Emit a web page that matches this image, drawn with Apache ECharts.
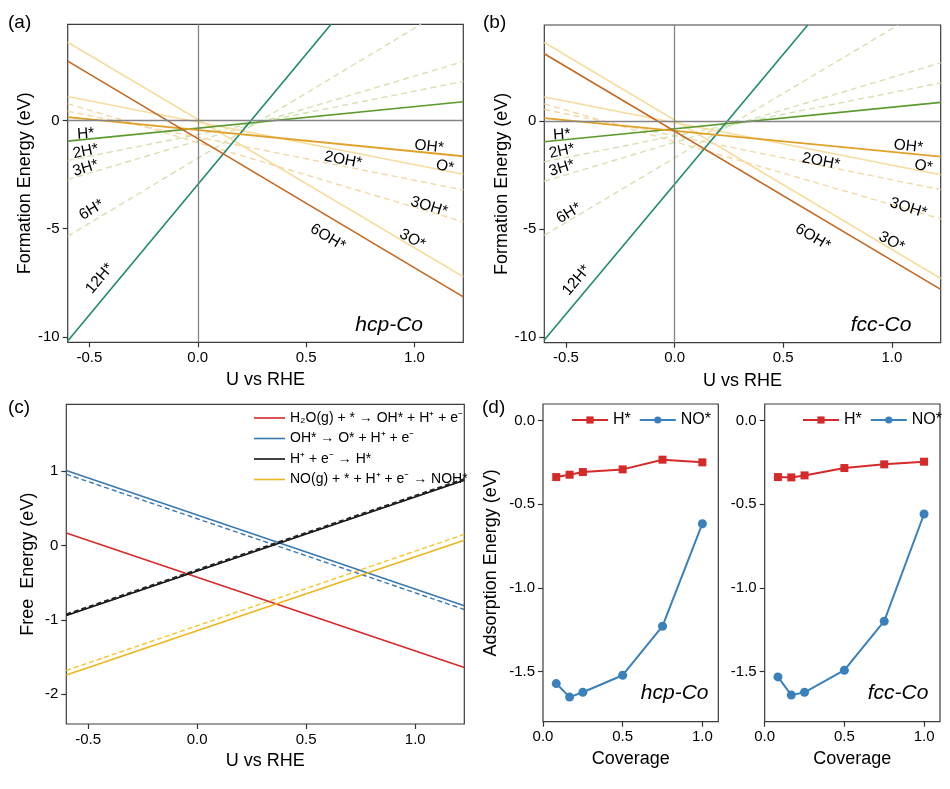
<!DOCTYPE html>
<html><head><meta charset="utf-8">
<script src="https://cdn.jsdelivr.net/npm/echarts@6/dist/echarts.min.js"></script>
<style>html,body{margin:0;padding:0;background:#fff}#c{width:950px;height:789px}</style>
</head><body><div id="c"></div>
<script>
// ================= DATA =================
// Panels (a)/(b): formation energy lines, endpoints [U, E]
const speciesNames = ['2H*','3H*','6H*','2OH*','3OH*','O*','3O*','H*','12H*','OH*','6OH*'];
const hcpStart = [[-0.6,-1.85],[-0.6,-2.73],[-0.6,-5.35],[-0.6,0.43],[-0.6,0.78],[-0.6,1.11],[-0.6,3.62],[-0.6,-0.95],[-0.6,-10.19],[-0.6,0.16],[-0.6,2.75]];
const hcpEnd   = [[1.225,1.81],[1.225,2.73],[1.03,4.45],[1.225,-3.21],[1.225,-4.68],[1.225,-2.48],[1.225,-7.22],[1.225,0.87],[0.615,4.45],[1.225,-1.65],[1.225,-8.15]];
const fccStart = [[-0.6,-1.88],[-0.6,-2.78],[-0.6,-5.28],[-0.6,0.54],[-0.6,0.80],[-0.6,1.12],[-0.6,3.64],[-0.6,-0.95],[-0.6,-10.12],[-0.6,0.14],[-0.6,3.12]];
const fccEnd   = [[1.225,1.77],[1.225,2.70],[1.03,4.45],[1.225,-3.17],[1.225,-4.52],[1.225,-2.48],[1.225,-7.28],[1.225,0.87],[0.613,4.45],[1.225,-1.64],[1.225,-7.78]];

// Line annotations in (a)/(b)
const labelTexts  = ['H*','2H*','3H*','6H*','12H*','2OH*','OH*','O*','3OH*','6OH*','3O*'];
const hcpLabelPos = [[-0.517,-0.62],[-0.517,-1.43],[-0.517,-2.2],[-0.49,-4.13],[-0.452,-7.3],[0.671,-1.82],[1.067,-1.2],[1.14,-2.13],[1.067,-3.98],[0.60,-5.4],[0.99,-5.49]];
const fccLabelPos = [[-0.519,-0.62],[-0.519,-1.39],[-0.519,-2.17],[-0.487,-4.26],[-0.452,-7.36],[0.674,-1.86],[1.076,-1.16],[1.145,-2.09],[1.076,-4.02],[0.636,-5.37],[0.999,-5.58]];
const panelNames = ['hcp-Co','fcc-Co'];
const hcpNamePos = [0.883,-9.46];
const fccNamePos = [0.95,-9.46];

// Panel (c): free energy lines, endpoints E at U=-0.6 and U=1.225
const cU = [-0.6, 1.225];
const cNames = ['H\u2082O(g) + * \u2192 OH* + H\u207A + e\u207B', 'OH* \u2192 O* + H\u207A + e\u207B', 'H\u207A + e\u207B \u2192 H*', 'NO(g) + * + H\u207A + e\u207B \u2192 NOH*'];
const cSolid  = [[0.17,-1.64],[1.01,-0.81],[-0.94,0.88],[-1.74,0.07]];
const cDashed = [null,[0.96,-0.86],[-0.93,0.89],[-1.68,0.15]];

// Panel (d): adsorption energy vs coverage
const coverage = [0.083, 0.167, 0.25, 0.5, 0.75, 1.0];
const hcpH  = [-0.337,-0.323,-0.307,-0.291,-0.233,-0.249];
const hcpNO = [-1.572,-1.653,-1.624,-1.522,-1.229,-0.616];
const fccH  = [-0.337,-0.339,-0.327,-0.283,-0.261,-0.245];
const fccNO = [-1.532,-1.641,-1.624,-1.492,-1.199,-0.558];
const dNamePos = [[0.826,-1.63],[0.837,-1.63]];

// ================= STYLE =================
const FONT = 'Liberation Sans, Arial, Helvetica, sans-serif';
const TXT = '#000';
const speciesStyle = {
  '2H*': ['#d2e2b0',1.4,true], '3H*': ['#d2e2b0',1.4,true], '6H*': ['#d2e2b0',1.4,true],
  '2OH*': ['#f3d8a6',1.4,true], '3OH*': ['#f3d8a6',1.4,true],
  'O*': ['#f7dc9e',1.5,false], '3O*': ['#f7dc9e',1.5,false],
  'H*': ['#5b9a2e',1.6,false], '12H*': ['#1e8a6c',1.6,false],
  'OH*': ['#e0a128',1.8,false], '6OH*': ['#c4661f',1.6,false]
};
const labelRot = [4,12,17,31,50,-11,-6,-11,-17,-31,-28];

const grids = [
  {left:67.7, top:24.3, width:395.6, height:318},
  {left:544.3, top:25, width:396.4, height:317.7},
  {left:66.3, top:404.3, width:398, height:319.7},
  {left:543, top:404, width:175.3, height:317.7},
  {left:764.7, top:404, width:175.3, height:317.7}
].map(g => Object.assign(g, {show:true, borderColor:'#3c3c3c', borderWidth:1.2, backgroundColor:'transparent'}));

function axisCommon(extra) {
  return Object.assign({
    type:'value',
    axisLine:{show:false, onZero:false},
    splitLine:{show:false},
    nameLocation:'middle',
    nameTextStyle:{fontSize:18, color:TXT, fontFamily:FONT},
  }, extra);
}
function ticks(vals, fmt, len) {
  return {
    axisTick:{show:true, customValues:vals, length:len||5, inside:false, lineStyle:{color:'#333', width:1.2}},
    axisLabel:{customValues:vals, formatter:fmt, fontSize:15, color:TXT, fontFamily:FONT, margin:8}
  };
}
const f1 = v => v.toFixed(1);
const f0 = v => String(Math.round(v));
const uTicks = [-0.5,0,0.5,1.0];

const xAxes = [
  axisCommon(Object.assign({gridIndex:0, position:'bottom', min:-0.6, max:1.225, name:'U vs RHE', nameGap:29}, ticks(uTicks,f1))),
  axisCommon(Object.assign({gridIndex:1, position:'bottom', min:-0.6, max:1.225, name:'U vs RHE', nameGap:29}, ticks(uTicks,f1))),
  axisCommon(Object.assign({gridIndex:2, position:'bottom', min:-0.6, max:1.225, name:'U vs RHE', nameGap:28}, ticks(uTicks,f1))),
  axisCommon(Object.assign({gridIndex:3, position:'bottom', min:0, max:1.1, name:'Coverage', nameGap:28}, ticks([0,0.5,1.0],f1))),
  axisCommon(Object.assign({gridIndex:4, position:'bottom', min:0, max:1.1, name:'Coverage', nameGap:28}, ticks([0,0.5,1.0],f1)))
];
const yAxes = [
  axisCommon(Object.assign({gridIndex:0, position:'left', min:-10.25, max:4.45, name:'Formation Energy (eV)', nameGap:30}, ticks([-10,-5,0],f0))),
  axisCommon(Object.assign({gridIndex:1, position:'left', min:-10.25, max:4.45, name:'Formation Energy (eV)', nameGap:30}, ticks([-10,-5,0],f0))),
  axisCommon(Object.assign({gridIndex:2, position:'left', min:-2.4, max:1.9, name:'Free  Energy (eV)', nameGap:29}, ticks([-2,-1,0,1],f0))),
  axisCommon(Object.assign({gridIndex:3, position:'left', min:-1.8, max:0.1, name:'Adsorption Energy (eV)', nameGap:43}, ticks([-1.5,-1.0,-0.5,0],f1))),
  axisCommon(Object.assign({gridIndex:4, position:'left', min:-1.8, max:0.1}, ticks([-1.5,-1.0,-0.5,0],f1)))
];

const series = [];
const zeroLines = {
  silent:true, symbol:'none', animation:false,
  label:{show:false},
  lineStyle:{color:'#858585', width:1.3, type:'solid'},
  data:[{xAxis:0},{yAxis:0}]
};

function addFormationPanel(gi, starts, ends, lpos, pname, ppos) {
  speciesNames.forEach((n, i) => {
    const st = speciesStyle[n];
    const s = {
      type:'line', xAxisIndex:gi, yAxisIndex:gi, name:n+'_'+gi,
      data:[starts[i], ends[i]], symbol:'none', clip:true, silent:true,
      lineStyle:{color:st[0], width:st[1], type: st[2] ? [6,4] : 'solid'},
      z: st[2] ? 2 : 3
    };
    if (i === 0) s.markLine = zeroLines;
    series.push(s);
  });
  const lab = labelTexts.map((t, i) => ({
    value: lpos[i],
    label:{show:true, formatter:t, rotate:labelRot[i], position:'inside', fontSize:15.5, color:TXT, fontFamily:FONT}
  }));
  lab.push({value: ppos, label:{show:true, formatter:pname, position:'inside', fontSize:21, fontStyle:'italic', color:TXT, fontFamily:FONT}});
  series.push({type:'scatter', xAxisIndex:gi, yAxisIndex:gi, symbolSize:0, silent:true, z:10,
    itemStyle:{opacity:1}, data:lab});
}
addFormationPanel(0, hcpStart, hcpEnd, hcpLabelPos, panelNames[0], hcpNamePos);
addFormationPanel(1, fccStart, fccEnd, fccLabelPos, panelNames[1], fccNamePos);

// Panel (c)
const cColors = ['#d8282a','#3a78b0','#111111','#ebb51c'];
const cDashColors = ['#d8282a','#3a78b0','#222222','#f3c52a'];
cDashed.forEach((d, i) => {
  if (!d) return;
  series.push({type:'line', xAxisIndex:2, yAxisIndex:2, name:'dashed'+i,
    data:[[cU[0], d[0]],[cU[1], d[1]]], symbol:'none', silent:true, clip:true,
    lineStyle:{color:cDashColors[i], width: i===2 ? 2.6 : 1.4, type:[5,3]}, z: i===2 ? 4 : 2});
});
cSolid.forEach((d, i) => {
  series.push({type:'line', xAxisIndex:2, yAxisIndex:2, name:cNames[i],
    data:[[cU[0], d[0]],[cU[1], d[1]]], symbol:'none', silent:true, clip:true,
    lineStyle:{color:cColors[i], width:1.6, type:'solid'}, itemStyle:{color:cColors[i]}, z:3});
});

// Panel (d)
function addAds(gi, hv, nv, pname, ppos) {
  series.push({type:'line', xAxisIndex:gi, yAxisIndex:gi, name:'H*',
    data: coverage.map((c,i)=>[c,hv[i]]), symbol:'rect', symbolSize:8, showAllSymbol:true,
    lineStyle:{color:'#d42a2a', width:2}, itemStyle:{color:'#d42a2a'}, silent:true});
  series.push({type:'line', xAxisIndex:gi, yAxisIndex:gi, name:'NO*',
    data: coverage.map((c,i)=>[c,nv[i]]), symbol:'circle', symbolSize:9, showAllSymbol:true,
    lineStyle:{color:'#3a80bb', width:2}, itemStyle:{color:'#3a80bb'}, silent:true});
  series.push({type:'scatter', xAxisIndex:gi, yAxisIndex:gi, symbolSize:0, silent:true,
    itemStyle:{opacity:1},
    data:[{value:ppos, label:{show:true, formatter:pname, position:'inside', fontSize:21, fontStyle:'italic', color:TXT, fontFamily:FONT}}]});
}
addAds(3, hcpH, hcpNO, panelNames[0], dNamePos[0]);
addAds(4, fccH, fccNO, panelNames[1], dNamePos[1]);

const legendText = {fontSize:14, color:TXT, fontFamily:FONT};
const option = {
  animation:false,
  backgroundColor:'#fff',
  textStyle:{fontFamily:FONT},
  grid: grids,
  xAxis: xAxes,
  yAxis: yAxes,
  legend: [
    {data:cNames, orient:'vertical', left:249, top:406, icon:'rect', itemWidth:31, itemHeight:1.6,
     itemGap:6.5, textStyle:legendText, selectedMode:false},
    {data:['H*','NO*'], left:566, top:407, itemWidth:36, itemHeight:9, itemGap:8,
     textStyle:{fontSize:16, color:TXT, fontFamily:FONT}, selectedMode:false},
    {data:['H*','NO*'], left:797, top:407, itemWidth:36, itemHeight:9, itemGap:8,
     textStyle:{fontSize:16, color:TXT, fontFamily:FONT}, selectedMode:false}
  ],
  graphic: [
    {type:'text', left:8, top:13, style:{text:'(a)', fontSize:19, fill:TXT, fontFamily:FONT}},
    {type:'text', left:483, top:13, style:{text:'(b)', fontSize:19, fill:TXT, fontFamily:FONT}},
    {type:'text', left:8, top:398, style:{text:'(c)', fontSize:19, fill:TXT, fontFamily:FONT}},
    {type:'text', left:482, top:398, style:{text:'(d)', fontSize:19, fill:TXT, fontFamily:FONT}}
  ],
  series: series
};
const chart = echarts.init(document.getElementById('c'), null, {renderer:'canvas'});
chart.setOption(option);
</script>
</body></html>
